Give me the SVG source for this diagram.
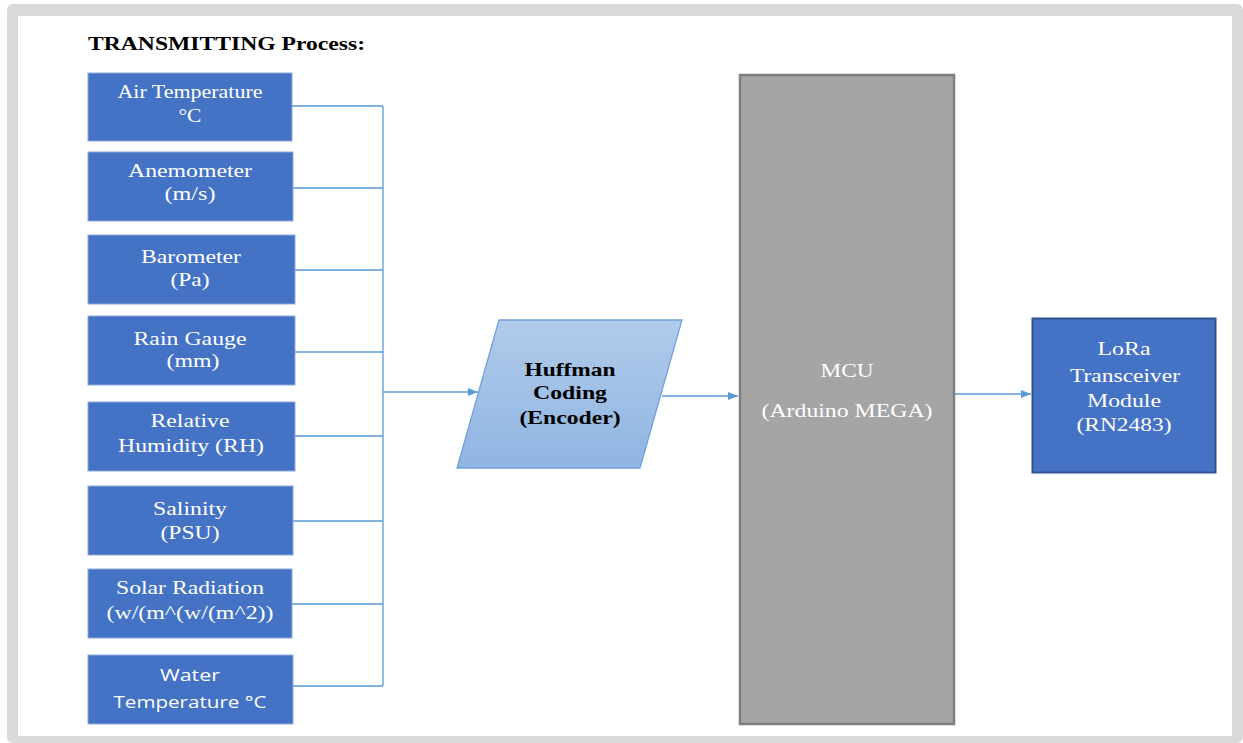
<svg xmlns="http://www.w3.org/2000/svg" width="1243" height="743" viewBox="0 0 1243 743">
<style>
.sensor{fill:#4472c4;stroke:#8faadc;stroke-width:1}
.st{font-family:"Liberation Serif","Times New Roman",serif;font-size:19px;fill:#ffffff;text-anchor:middle}
.ss{font-family:"Open Sans","Liberation Sans",sans-serif;font-size:17px;fill:#ffffff;text-anchor:middle}
.conn{fill:none;stroke:#5b9bd5;stroke-width:1.3}
.hb{font-family:"Liberation Serif","Times New Roman",serif;font-size:19px;font-weight:bold;fill:#000000;text-anchor:middle}
</style>
<defs>
<marker id="arr" markerWidth="10" markerHeight="8" refX="10" refY="4" orient="auto" markerUnits="userSpaceOnUse">
<path d="M0,0 L10,4 L0,8 Z" fill="#5b9bd5"/>
</marker>
<linearGradient id="pg" x1="0" y1="0" x2="0" y2="1">
<stop offset="0" stop-color="#b1cbea"/>
<stop offset="1" stop-color="#8fb5e2"/>
</linearGradient>
</defs>
<rect x="7" y="4" width="1236" height="739" rx="6" fill="#d9d9d9"/>
<rect x="18" y="16" width="1214" height="720" fill="#ffffff"/>
<text x="88" y="50" font-family="'Liberation Serif','Times New Roman',serif" font-size="18" font-weight="bold" fill="#000" textLength="277" lengthAdjust="spacingAndGlyphs">TRANSMITTING Process:</text>

<g id="connectors">
<path class="conn" d="M292,106 H383 M293,188 H383 M295,270 H383 M295,352 H383 M295,436 H383 M293,521 H383 M292,604 H383 M293,686 H383 M383,106 V686"/>
<path class="conn" d="M383,392 H478" marker-end="url(#arr)"/>
<path class="conn" d="M662,396 H738" marker-end="url(#arr)"/>
<path class="conn" d="M955,394 H1031" marker-end="url(#arr)"/>
</g>

<g id="air-temp">
<rect class="sensor" x="88" y="73" width="204" height="68"/>
<text class="st" x="190" y="98" textLength="145" lengthAdjust="spacingAndGlyphs">Air Temperature</text>
<text class="st" x="190" y="122" textLength="23" lengthAdjust="spacingAndGlyphs">°C</text>
</g>
<g id="anemometer">
<rect class="sensor" x="88" y="152" width="205" height="69"/>
<text class="st" x="190" y="177" textLength="124" lengthAdjust="spacingAndGlyphs">Anemometer</text>
<text class="st" x="190" y="200" textLength="51" lengthAdjust="spacingAndGlyphs">(m/s)</text>
</g>
<g id="barometer">
<rect class="sensor" x="88" y="235" width="207" height="69"/>
<text class="st" x="191" y="263" textLength="100" lengthAdjust="spacingAndGlyphs">Barometer</text>
<text class="st" x="190" y="286" textLength="39" lengthAdjust="spacingAndGlyphs">(Pa)</text>
</g>
<g id="rain-gauge">
<rect class="sensor" x="88" y="316" width="207" height="69"/>
<text class="st" x="190" y="345" textLength="113" lengthAdjust="spacingAndGlyphs">Rain Gauge</text>
<text class="st" x="193" y="367" textLength="53" lengthAdjust="spacingAndGlyphs">(mm)</text>
</g>
<g id="humidity">
<rect class="sensor" x="88" y="402" width="207" height="69"/>
<text class="st" x="190" y="427" textLength="79" lengthAdjust="spacingAndGlyphs">Relative</text>
<text class="st" x="191" y="452" textLength="146" lengthAdjust="spacingAndGlyphs">Humidity (RH)</text>
</g>
<g id="salinity">
<rect class="sensor" x="88" y="486" width="205" height="69"/>
<text class="st" x="190" y="515" textLength="74" lengthAdjust="spacingAndGlyphs">Salinity</text>
<text class="st" x="190" y="539" textLength="59" lengthAdjust="spacingAndGlyphs">(PSU)</text>
</g>
<g id="solar">
<rect class="sensor" x="88" y="569" width="204" height="69"/>
<text class="st" x="190" y="594" textLength="148" lengthAdjust="spacingAndGlyphs">Solar Radiation</text>
<text class="st" x="190" y="619" textLength="167" lengthAdjust="spacingAndGlyphs">(w/(m^(w/(m^2))</text>
</g>
<g id="water-temp">
<rect class="sensor" x="88" y="655" width="205" height="69"/>
<text class="ss" x="190" y="681" textLength="60" lengthAdjust="spacingAndGlyphs">Water</text>
<text class="ss" x="190" y="708" textLength="153" lengthAdjust="spacingAndGlyphs">Temperature °C</text>
</g>

<g id="huffman">
<polygon points="499,320 682,320 640,468 457,468" fill="url(#pg)" stroke="#6fa3d9" stroke-width="1.3"/>
<text class="hb" x="570" y="376" textLength="91" lengthAdjust="spacingAndGlyphs">Huffman</text>
<text class="hb" x="570" y="399" textLength="74" lengthAdjust="spacingAndGlyphs">Coding</text>
<text class="hb" x="570" y="424" textLength="101" lengthAdjust="spacingAndGlyphs">(Encoder)</text>
</g>

<g id="mcu">
<rect x="740" y="75" width="214" height="649" fill="#a5a5a5" stroke="#7f7f7f" stroke-width="2.5"/>
<text class="st" x="847" y="377" textLength="53" lengthAdjust="spacingAndGlyphs">MCU</text>
<text class="st" x="847" y="417" textLength="171" lengthAdjust="spacingAndGlyphs">(Arduino MEGA)</text>
</g>

<g id="lora">
<rect x="1032.5" y="318.5" width="183" height="154" fill="#4472c4" stroke="#2f528f" stroke-width="2"/>
<text class="st" x="1124" y="355" textLength="53" lengthAdjust="spacingAndGlyphs">LoRa</text>
<text class="st" x="1125" y="382" textLength="110" lengthAdjust="spacingAndGlyphs">Transceiver</text>
<text class="st" x="1124" y="407" textLength="74" lengthAdjust="spacingAndGlyphs">Module</text>
<text class="st" x="1124" y="431" textLength="95" lengthAdjust="spacingAndGlyphs">(RN2483)</text>
</g>
</svg>
